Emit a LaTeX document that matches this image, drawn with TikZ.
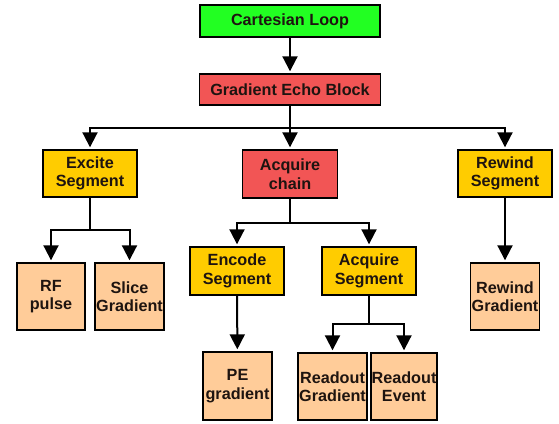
\documentclass[tikz,border=0pt]{standalone}
\usepackage{fontspec}
\setmainfont{Liberation Sans}
\usetikzlibrary{arrows.meta}
\definecolor{loopgreen}{HTML}{22FF22}
\definecolor{blockred}{HTML}{F25555}
\definecolor{seggold}{HTML}{FFCC00}
\definecolor{leafpeach}{HTML}{FFCC99}
\definecolor{inktext}{HTML}{1E1410}
\tikzset{
  box/.style={draw=black, line width=1.4pt, align=center, inner sep=0pt,
    text=inktext, font=\fontsize{16.2}{18.5}\selectfont\bfseries},
  toplevel/.style={box, fill=loopgreen, minimum width=180pt, minimum height=32pt},
  chainbox/.style={box, fill=blockred},
  segbox/.style={box, fill=seggold, minimum width=94pt, minimum height=47pt},
  leafbox/.style={box, fill=leafpeach, minimum width=68pt, minimum height=67pt},
  arr/.style={line width=2pt, -{Triangle[width=15pt,length=15pt]}, shorten >=2pt}
}
\begin{document}
\begin{tikzpicture}[x=1pt,y=-1pt]
\useasboundingbox (0,0) rectangle (559,423);

% top of the hierarchy
\node[toplevel] (cart) at (290,21) {Cartesian Loop};
\node[chainbox, minimum width=181pt, minimum height=31pt] (geb) at (290,89.5) {Gradient Echo Block};

% second level
\node[segbox] (excite) at (90,173.5) {Excite\\Segment};
\node[chainbox, minimum width=95pt, minimum height=48pt] (acq) at (290,174) {Acquire\\chain};
\node[segbox] (rewseg) at (505,173.5) {Rewind\\Segment};

% excite leaves
\node[leafbox] (rf) at (51,296.5) {RF\\pulse};
\node[leafbox, minimum width=69pt] (slice) at (129.5,296.5) {Slice\\Gradient};

% acquire chain segments
\node[segbox, minimum height=48pt] (enc) at (237,271) {Encode\\Segment};
\node[segbox, minimum height=48pt] (acqseg) at (369,271) {Acquire\\Segment};

% acquire chain leaves
\node[leafbox, minimum width=69pt, minimum height=68pt] (pe) at (237.5,386) {PE\\gradient};
\node[leafbox, minimum width=69pt] (rdg) at (332.5,386.5) {Readout\\Gradient};
\node[leafbox, minimum width=66pt] (rde) at (404,386.5) {Readout\\Event};

% rewind leaf
\node[leafbox, minimum width=69pt] (rewg) at (505,296.5) {Rewind\\Gradient};

% connectors
\draw[arr] (cart) -- (geb);
\draw[arr] (geb.south) -- ++(0,22) -| (excite.north);
\draw[arr] (geb.south) -- ++(0,22) -| (rewseg.north);
\draw[arr] (geb) -- (acq);

\draw[arr] (excite.south) -- ++(0,32) -| (rf.north);
\draw[arr] (excite.south) -- ++(0,32) -| (slice.north);

\draw[arr] (acq.south) -- ++(0,24) -| (enc.north);
\draw[arr] (acq.south) -- ++(0,24) -| (acqseg.north);

\draw[arr] (enc) -- (pe);
\draw[arr] (acqseg.south) -- ++(0,28) -| (rdg.north);
\draw[arr] (acqseg.south) -- ++(0,28) -| (rde.north);

\draw[arr] (rewseg) -- (rewg);
\end{tikzpicture}
\end{document}
